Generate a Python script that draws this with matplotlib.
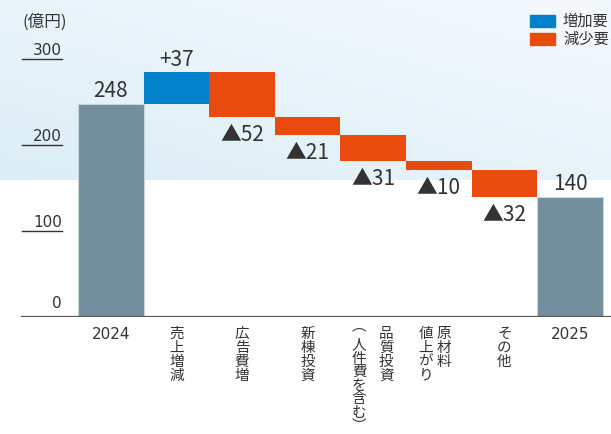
import numpy as np
import matplotlib.pyplot as plt
from matplotlib.patches import Rectangle

plt.rcParams['font.family'] = ['Noto Sans CJK JP', 'DejaVu Sans']

# data
start_value = 248
end_value = 140
changes = [37, -52, -21, -31, -10, -32]
label_columns = [["2024"], ["売上増減"], ["広告費増"], ["新棟投資"],
                 ["品質投資", "︵人件費を含む︶"], ["原材料", "値上がり"],
                 ["その他"], ["2025"]]
y_ticks = [0, 100, 200, 300]

gray = '#738e9c'
blue = '#0081c9'
red = '#e94a0d'
txt = '#333333'
num_font = ['Liberation Sans Narrow', 'Noto Sans CJK JP']

W, H = 611, 434
PT = 0.72  # points per pixel at dpi 100
STEP, X0 = 65.6, 110.8  # px per category, px of first category centre
fig = plt.figure(figsize=(W / 100, H / 100), dpi=100)

# light blue gradient band at top
bg = fig.add_axes([0, 1 - 180 / H, 1, 180 / H])
gx = np.linspace(0, 1, 120)
gy = np.linspace(0, 1, 60)
X, Y = np.meshgrid(gx, gy)
t = np.clip(0.55 * X + 0.6 * (1 - Y), 0, 1)[..., None]
c0 = np.array([0.86, 0.93, 0.965])
c1 = np.array([0.95, 0.975, 0.99])
bg.imshow(c0 * (1 - t) + c1 * t, aspect='auto', extent=[0, 1, 0, 1])
bg.axis('off')

# main axes, 0.86 px per unit
ax = fig.add_axes([0, 117 / H, 1, 317 / H])
ax.patch.set_alpha(0)
ax.set_xlim(-X0 / STEP, (W - X0) / STEP)
ax.set_ylim(0, 317 / 0.86)
for s in ax.spines.values():
    s.set_visible(False)
ax.set_xticks([])
ax.set_yticks([])

ax.bar(0, start_value, width=1, color=gray, edgecolor='#c9d6dd', linewidth=0.8)
ax.annotate(str(start_value), (0, start_value), xytext=(0, 4.5), textcoords='offset points',
            ha='center', va='baseline', fontsize=15, color=txt, family=num_font)

level = start_value
for i, c in enumerate(changes, start=1):
    new = level + c
    ax.bar(i, abs(c), bottom=min(level, new), width=1, color=blue if c > 0 else red)
    if c > 0:
        ax.annotate(f"+{c}", (i, new), xytext=(0, 4.5), textcoords='offset points',
                    ha='center', va='baseline', fontsize=15, color=txt, family=num_font)
    else:
        ax.annotate(f"▲{-c}", (i, new), xytext=(0, -5), textcoords='offset points',
                    ha='center', va='top', fontsize=15, color=txt, family=num_font)
    level = new

n = len(label_columns) - 1
ax.bar(n, end_value, width=1, color=gray, edgecolor='#c9d6dd', linewidth=0.8)
ax.annotate(str(end_value), (n, end_value), xytext=(0, 4.5), textcoords='offset points',
            ha='center', va='baseline', fontsize=15, color=txt, family=num_font)

# y axis: short lines with labels above
yt = ax.get_yaxis_transform()
for v in y_ticks:
    if v > 0:
        ax.plot([22 / W, 62 / W], [v, v], transform=yt, color=txt, lw=1)
    ax.annotate(str(v), (62 / W, v), xycoords=yt, xytext=(0, 3 if v else 6.5),
                textcoords='offset points', ha='right', va='baseline',
                fontsize=11, color=txt, family='DejaVu Sans')
ax.axhline(0, xmin=22 / W, xmax=1, color='#595757', lw=1.6)


def label(x, s, dx, dy, va='top', ls=1.0):
    ax.annotate(s, (x, 0), xytext=(dx * PT, -dy * PT), textcoords='offset points',
                ha='center', va=va, fontsize=10.5, color=txt, linespacing=ls)


# category labels (vertical Japanese, right column first)
col_dx = {4: [13, -14], 5: [5, -13]}
for i, cols in enumerate(label_columns):
    if cols[0].isdigit():
        ax.annotate(cols[0], (i, 0), xytext=(0, -7.5), textcoords='offset points',
                    ha='center', va='top', fontsize=11, color=txt, family='DejaVu Sans')
        continue
    for col, dx in zip(cols, col_dx.get(i, [0])):
        if col[0] == "︵":
            label(i, col[0], dx, 9, va='center')
            label(i, "\n".join(col[1:]), dx, 21, ls=0.96)
        else:
            label(i, "\n".join(col), dx, 10)

fig.text(23 / W, 1 - 22 / H, "(億円)", ha='left', va='center', fontsize=12, color=txt)

# legend
fig.add_artist(Rectangle((530 / W, 1 - 27 / H), 25 / W, 12 / H, transform=fig.transFigure,
                         color=blue))
fig.add_artist(Rectangle((530 / W, 1 - 45 / H), 25 / W, 12 / H, transform=fig.transFigure,
                         color=red))
fig.text(563 / W, 1 - 21 / H, "増加要", ha='left', va='center', fontsize=11, color=txt)
fig.text(563 / W, 1 - 39 / H, "減少要", ha='left', va='center', fontsize=11, color=txt)

fig.savefig('out.png', dpi=100)
